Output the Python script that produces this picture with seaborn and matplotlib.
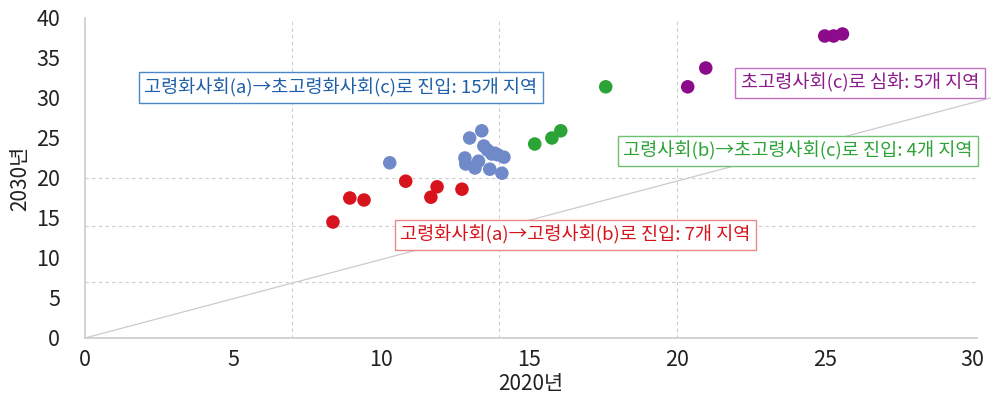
import pandas as pd
import matplotlib.pyplot as plt
import seaborn as sns

# 2020년 / 2030년 고령인구 비율 (%) - 그림에서 읽은 값
red_x = [8.38, 8.95, 9.43, 10.84, 11.69, 11.9, 12.74]
red_y = [14.5, 17.5, 17.25, 19.6, 17.6, 18.9, 18.6]

blue_x = [10.3, 13.0, 13.41, 13.48, 13.6, 13.75, 13.85, 13.95, 14.16,
          12.84, 12.87, 13.3, 13.18, 13.68, 14.09]
blue_y = [21.9, 25.0, 25.9, 24.0, 23.5, 23.0, 23.1, 22.9, 22.6,
          22.5, 21.75, 22.1, 21.25, 21.1, 20.6]

green_x = [15.2, 15.78, 16.08, 17.6]
green_y = [24.25, 25.0, 25.9, 31.4]

purple_x = [20.37, 20.98, 25.0, 25.3, 25.6]
purple_y = [31.4, 33.75, 37.75, 37.75, 38.0]

groups = ["a→b", "a→c", "b→c", "c"]
colors = {"a→b": "#d7141e", "a→c": "#7089c8", "b→c": "#2ca336", "c": "#8b0b8b"}

x_ticks = [0, 5, 10, 15, 20, 25, 30]
y_ticks = [0, 5, 10, 15, 20, 25, 30, 35, 40]
thresholds = [7, 14, 20]

df = pd.concat([
    pd.DataFrame({"x": red_x, "y": red_y, "group": groups[0]}),
    pd.DataFrame({"x": blue_x, "y": blue_y, "group": groups[1]}),
    pd.DataFrame({"x": green_x, "y": green_y, "group": groups[2]}),
    pd.DataFrame({"x": purple_x, "y": purple_y, "group": groups[3]}),
])

sns.set_style("white")
plt.rcParams["font.family"] = ["Noto Sans CJK KR", "DejaVu Sans"]

fig = plt.figure(figsize=(9.95, 4), dpi=100)
ax = fig.add_axes([0.0854, 0.155, 0.8966, 0.8])

# 기준선 (7%, 14%, 20%)
for t in thresholds:
    ax.axvline(t, color="#cccccc", lw=0.8, ls=(0, (3, 3)), zorder=0)
    ax.axhline(t, color="#cccccc", lw=0.8, ls=(0, (3, 3)), zorder=0)

# y = x 대각선
ax.plot([0, 30.6], [0, 30], color="#cfc8d2", lw=0.9, zorder=1, clip_on=False)

sns.scatterplot(data=df, x="x", y="y", hue="group", palette=colors,
                s=95, edgecolor="none", legend=False, ax=ax, zorder=3)

ax.set_xlim(0, 30.15)
ax.set_ylim(0, 40)
ax.set_xticks(x_ticks)
ax.set_yticks(y_ticks)
ax.tick_params(axis="both", length=0, labelsize=15.5, colors="#222222")
ax.tick_params(axis="y", pad=18)
ax.tick_params(axis="x", pad=8)

for side in ["top", "right"]:
    ax.spines[side].set_visible(False)
for side in ["left", "bottom"]:
    ax.spines[side].set_color("#cccccc")
    ax.spines[side].set_linewidth(1.2)

ax.set_xlabel("2020년", fontsize=15, color="#222222")
ax.set_ylabel("2030년", fontsize=15, color="#222222")
ax.xaxis.set_label_coords(0.5, -0.108)
ax.yaxis.set_label_coords(-0.06, 0.5)

# 주석 상자 (텍스트, 중심 x, 중심 y, 글자색, 테두리색, 여백)
notes = [
    ("고령화사회(a)→초고령화사회(c)로 진입: 15개 지역", 0.3427, 0.781, "#1f5fa8", "#4a86c8", 0.3),
    ("초고령사회(c)로 심화: 5개 지역", 0.8643, 0.7925, "#8b1a8b", "#c070c0", 0.3),
    ("고령사회(b)→초고령사회(c)로 진입: 4개 지역", 0.802, 0.6225, "#2ca336", "#70c070", 0.3),
    ("고령화사회(a)→고령사회(b)로 진입: 7개 지역", 0.5784, 0.4125, "#d7141e", "#e88888", 0.3),
]
for text, fx, fy, tc, bc, pad in notes:
    fig.text(fx, fy, text, fontsize=13.4, color=tc, ha="center", va="center",
             bbox=dict(boxstyle="square,pad=%s" % pad, fc="white", ec=bc, lw=1.0),
             zorder=5)

fig.savefig("out.png", dpi=100)
